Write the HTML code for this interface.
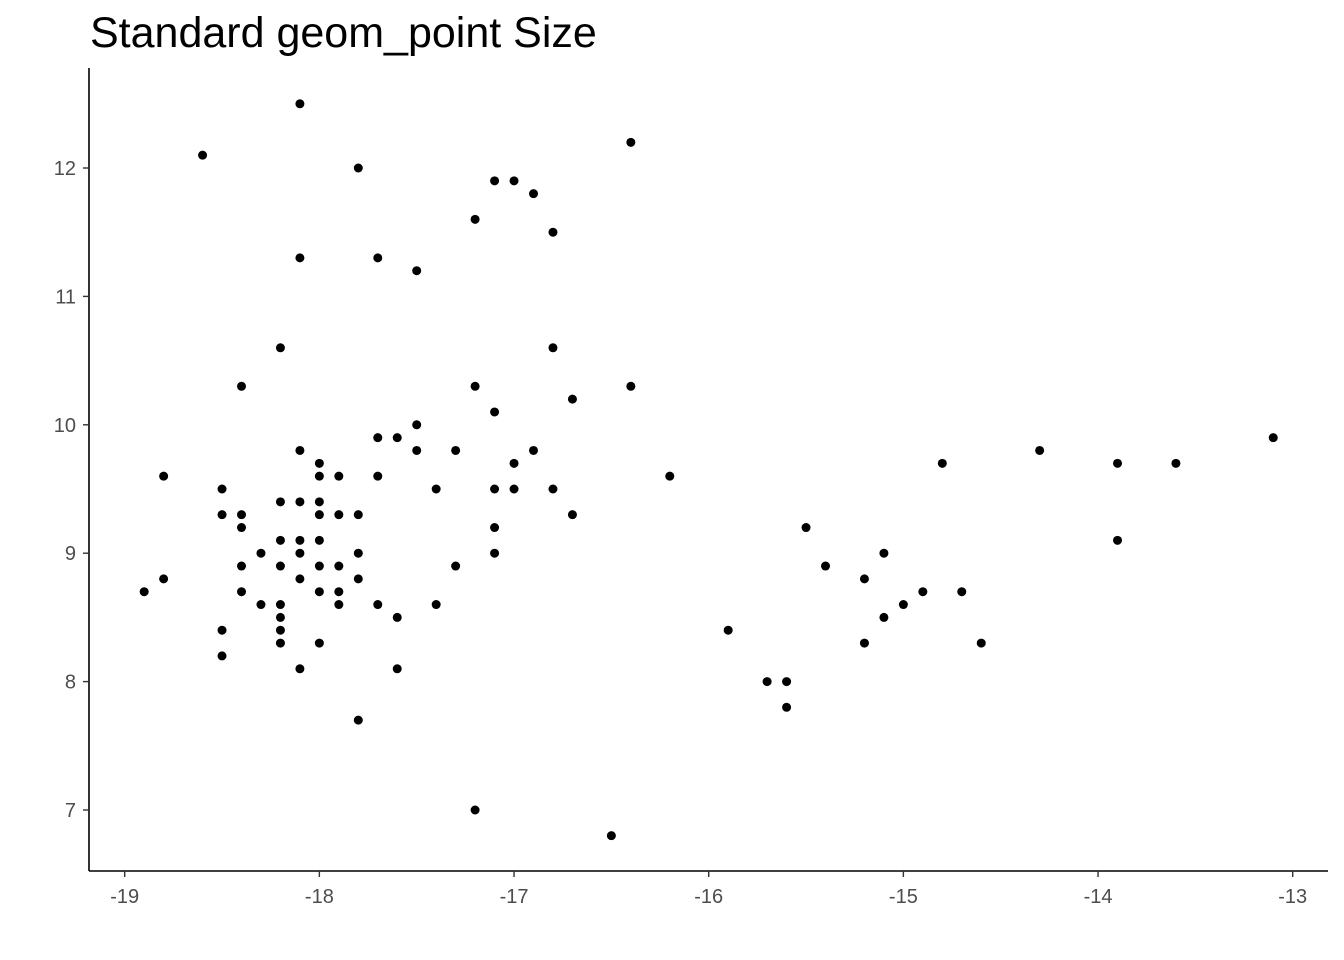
<!DOCTYPE html>
<html><head><meta charset="utf-8"><style>
html,body{margin:0;padding:0;background:#fff;}
svg{display:block;font-family:"Liberation Sans",sans-serif;}
</style></head><body>
<svg id="chart" width="1344" height="960">
<text x="90" y="47" font-size="43" fill="#000">Standard geom_point Size</text>
<line x1="89" y1="68" x2="89" y2="871" stroke="#000" stroke-width="1.6"/>
<line x1="89" y1="871" x2="1328" y2="871" stroke="#000" stroke-width="1.6"/>
<g id="xt"></g>
<g id="yt"></g>
<g id="pts"></g>
</svg>
<script>
const xTicks = [-19,-18,-17,-16,-15,-14,-13];
const yTicks = [7,8,9,10,11,12];
const xs = [-18.1,-18.6,-17.8,-16.4,-17.1,-17.0,-16.9,-17.2,-16.8,-18.1,-17.7,-17.5,-18.2,-16.8,-18.4,-17.2,-16.4,-16.7,-17.1,-17.5,-17.7,-17.6,-13.1,-18.1,-17.5,-17.3,-16.9,-14.3,-18.0,-17.0,-14.8,-13.9,-13.6,-18.8,-18.0,-17.9,-17.7,-16.2,-18.5,-17.4,-17.1,-17.0,-16.8,-18.2,-18.1,-18.0,-18.5,-18.4,-18.0,-17.9,-17.8,-16.7,-18.4,-17.1,-15.5,-18.2,-18.1,-18.0,-13.9,-18.3,-18.1,-17.8,-17.1,-15.1,-18.4,-18.2,-18.0,-17.9,-17.3,-15.4,-18.8,-18.1,-17.8,-15.2,-18.9,-18.4,-18.0,-17.9,-14.9,-14.7,-18.3,-18.2,-17.9,-17.7,-17.4,-15.0,-18.2,-17.6,-15.1,-18.5,-18.2,-15.9,-18.2,-18.0,-15.2,-14.6,-18.5,-18.1,-17.6,-15.7,-15.6,-15.6,-17.8,-17.2,-16.5];
const ys = [12.5,12.1,12.0,12.2,11.9,11.9,11.8,11.6,11.5,11.3,11.3,11.2,10.6,10.6,10.3,10.3,10.3,10.2,10.1,10.0,9.9,9.9,9.9,9.8,9.8,9.8,9.8,9.8,9.7,9.7,9.7,9.7,9.7,9.6,9.6,9.6,9.6,9.6,9.5,9.5,9.5,9.5,9.5,9.4,9.4,9.4,9.3,9.3,9.3,9.3,9.3,9.3,9.2,9.2,9.2,9.1,9.1,9.1,9.1,9.0,9.0,9.0,9.0,9.0,8.9,8.9,8.9,8.9,8.9,8.9,8.8,8.8,8.8,8.8,8.7,8.7,8.7,8.7,8.7,8.7,8.6,8.6,8.6,8.6,8.6,8.6,8.5,8.5,8.5,8.4,8.4,8.4,8.3,8.3,8.3,8.3,8.2,8.1,8.1,8.0,8.0,7.8,7.7,7.0,6.8];
const NS='http://www.w3.org/2000/svg';
function sx(v){return 124.7+(v+19)*194.67;}
function sy(v){return 810-(v-7)*128.4;}
const xt=document.getElementById('xt'), yt=document.getElementById('yt'), pts=document.getElementById('pts');
xTicks.forEach(t=>{
  const l=document.createElementNS(NS,'line');
  l.setAttribute('x1',sx(t));l.setAttribute('x2',sx(t));l.setAttribute('y1',871);l.setAttribute('y2',877);
  l.setAttribute('stroke','#333');l.setAttribute('stroke-width','1.4');
  
  
  xt.appendChild(l);
  const tx=document.createElementNS(NS,'text');
  tx.setAttribute('x',sx(t));tx.setAttribute('y',903);tx.setAttribute('text-anchor','middle');
  tx.setAttribute('font-size','20');tx.setAttribute('fill','#4d4d4d');tx.textContent=t;
  
  
  xt.appendChild(tx);
});
yTicks.forEach(t=>{
  const l=document.createElementNS(NS,'line');
  l.setAttribute('x1',83);l.setAttribute('x2',89);l.setAttribute('y1',sy(t));l.setAttribute('y2',sy(t));
  l.setAttribute('stroke','#333');l.setAttribute('stroke-width','1.4');
  
  
  yt.appendChild(l);
  const tx=document.createElementNS(NS,'text');
  tx.setAttribute('x',76);tx.setAttribute('y',sy(t)+7);tx.setAttribute('text-anchor','end');
  tx.setAttribute('font-size','20');tx.setAttribute('fill','#4d4d4d');tx.textContent=t;
  
  
  yt.appendChild(tx);
});
xs.forEach((x,i)=>{
  const c=document.createElementNS(NS,'circle');
  c.setAttribute('cx',sx(x));c.setAttribute('cy',sy(ys[i]));c.setAttribute('r',4.5);c.setAttribute('fill','#000');
  
  
  pts.appendChild(c);
});
</script>
</body></html>
